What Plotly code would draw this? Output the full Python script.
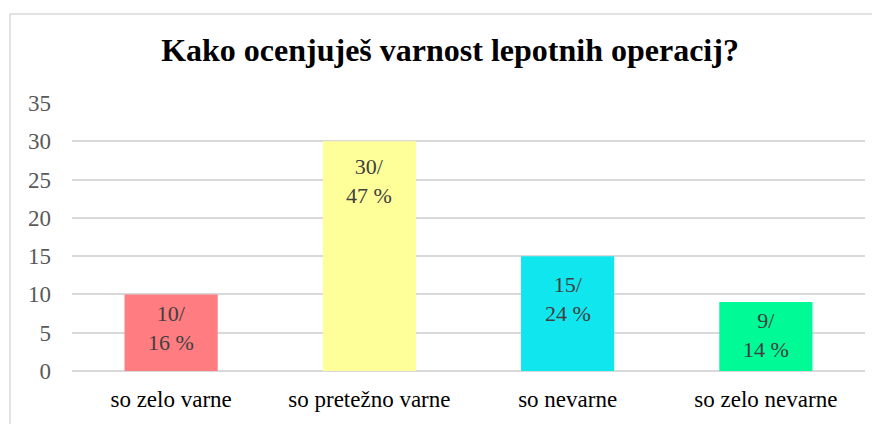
import plotly.graph_objects as go

categories = ["so zelo varne", "so pretežno varne", "so nevarne", "so zelo nevarne"]
counts = [10, 30, 15, 9]
percents = [16, 47, 24, 14]
colors = ["#FF7C80", "#FFFF99", "#10E6EE", "#00FA96"]
y_ticks = [0, 5, 10, 15, 20, 25, 30, 35]
label_shift = [-5, -11, -14, -4]  # pixel offset of each label below its bar top

labels = [f"{c}/<br>{p} %" for c, p in zip(counts, percents)]

# page body has an 8px margin, so the figure is drawn 8px smaller
W, H = 872, 416
L, R, T, B = 64, 15, 95, 47
pw, ph = W - L - R, H - T - B

fig = go.Figure(go.Bar(
    x=categories, y=counts, marker=dict(color=colors, line=dict(width=0)),
    width=0.47, hoverinfo="skip",
))

for cat, cnt, lab, sh in zip(categories, counts, labels, label_shift):
    fig.add_annotation(x=cat, y=cnt, text=lab, showarrow=False, yanchor="top", yshift=sh,
                       font=dict(family="Liberation Serif", size=22, color="#404040"))

fig.update_layout(
    width=W, height=H, margin=dict(l=L, r=R, t=T, b=B),
    paper_bgcolor="white", plot_bgcolor="white",
    title=dict(text="<b>Kako ocenjuješ varnost lepotnih operacij?</b>", x=442 / W, xanchor="center",
               y=1 - 42 / H, yanchor="middle",
               font=dict(family="Liberation Serif", size=32, color="black")),
    showlegend=False,
    xaxis=dict(showgrid=False, showline=False, ticks="", ticklabelstandoff=12,
               tickfont=dict(family="Liberation Serif", size=23, color="black")),
    yaxis=dict(range=[0, 35], tickvals=y_ticks, showgrid=True, gridcolor="#D9D9D9", gridwidth=1.5,
               zeroline=True, zerolinecolor="#D9D9D9", zerolinewidth=1.5, showline=False, ticks="",
               ticklabelstandoff=20,
               tickfont=dict(family="Liberation Serif", size=23, color="#595959")),
    font=dict(family="Liberation Serif"),
    shapes=[dict(type="rect", xref="paper", yref="paper",
                 x0=(2 - L) / pw, x1=(W + 20 - L) / pw,
                 y0=-(B + 20) / ph, y1=1 + (T - 4) / ph,
                 line=dict(color="#D9D9D9", width=1.5), fillcolor="rgba(0,0,0,0)", layer="below")],
)

fig.write_html("out.html")
